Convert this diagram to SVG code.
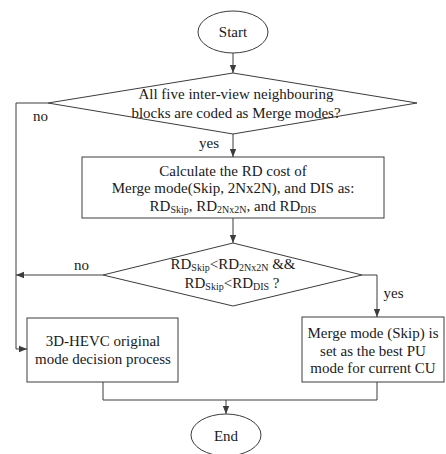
<svg xmlns="http://www.w3.org/2000/svg" width="446" height="454" viewBox="0 0 446 454">
<defs>
<style>
.s{fill:#fff;stroke:#3c3c3c;stroke-width:1}
.c{fill:none;stroke:#3c3c3c;stroke-width:1}
text{font-family:"Liberation Serif","Times New Roman",serif;font-size:15px;fill:#1a1a1a}
.m{text-anchor:middle}
.sub{font-size:10px}
</style>
<marker id="ah" viewBox="0 0 8 8" refX="8" refY="4" markerWidth="8" markerHeight="8" markerUnits="userSpaceOnUse" orient="auto">
<path d="M0,0.8 L8,4 L0,7.2 Z" fill="#3c3c3c"/>
</marker>
</defs>
<rect width="446" height="454" fill="#fff"/>
<g id="connectors">
<path class="c" d="M233,53 V73" marker-end="url(#ah)"/>
<path class="c" d="M233,134 V157" marker-end="url(#ah)"/>
<path class="c" d="M233,218 V243" marker-end="url(#ah)"/>
<path class="c" d="M48,103 H16 V349 H27" marker-end="url(#ah)"/>
<path class="c" d="M103,275 H16" marker-end="url(#ah)"/>
<path class="c" d="M362,275 H377 V317" marker-end="url(#ah)"/>
<path class="c" d="M103,382 V400 H377 V382"/>
<path class="c" d="M226,400 V414" marker-end="url(#ah)"/>
<text x="40.5" y="121" class="m">no</text>
<text x="209" y="148" class="m">yes</text>
<text x="81.5" y="270" class="m">no</text>
<text x="393.5" y="298" class="m">yes</text>
</g>
<g id="start">
<ellipse class="s" cx="233" cy="32" rx="35" ry="21"/>
<text x="233" y="37" class="m">Start</text>
</g>
<g id="decision1">
<polygon class="s" points="233,73 417,103 233,134 48,103"/>
<text x="236" y="99" class="m">All five inter-view neighbouring</text>
<text x="236" y="118" class="m">blocks are coded as Merge modes?</text>
</g>
<g id="calc">
<rect class="s" x="82" y="157" width="302" height="61"/>
<text x="233" y="176" class="m">Calculate the RD cost of</text>
<text x="233" y="193" class="m">Merge mode(Skip, 2Nx2N), and DIS as:</text>
<text x="233" y="211" class="m">RD<tspan class="sub" dy="2">Skip</tspan><tspan dy="-2">, RD</tspan><tspan class="sub" dy="2">2Nx2N</tspan><tspan dy="-2">, and RD</tspan><tspan class="sub" dy="2">DIS</tspan></text>
</g>
<g id="decision2">
<polygon class="s" points="233,243 362,275 233,306 103,275"/>
<text x="233" y="269" class="m">RD<tspan class="sub" dy="2">Skip</tspan><tspan dy="-2">&lt;RD</tspan><tspan class="sub" dy="2">2Nx2N</tspan><tspan dy="-2"> &amp;&amp;</tspan></text>
<text x="232" y="288" class="m">RD<tspan class="sub" dy="2">Skip</tspan><tspan dy="-2">&lt;RD</tspan><tspan class="sub" dy="2">DIS</tspan><tspan dy="-2"> ?</tspan></text>
</g>
<g id="original">
<rect class="s" x="27" y="318" width="151" height="64"/>
<text x="103" y="346" class="m">3D-HEVC original</text>
<text x="103" y="364" class="m">mode decision process</text>
</g>
<g id="skip">
<rect class="s" x="302" y="317" width="142" height="65"/>
<text x="373" y="338" class="m">Merge mode (Skip) is</text>
<text x="373" y="356" class="m">set as the best PU</text>
<text x="373" y="373" class="m">mode for current CU</text>
</g>
<g id="end">
<ellipse class="s" cx="226" cy="435" rx="35" ry="21"/>
<text x="226" y="441" class="m">End</text>
</g>
</svg>
